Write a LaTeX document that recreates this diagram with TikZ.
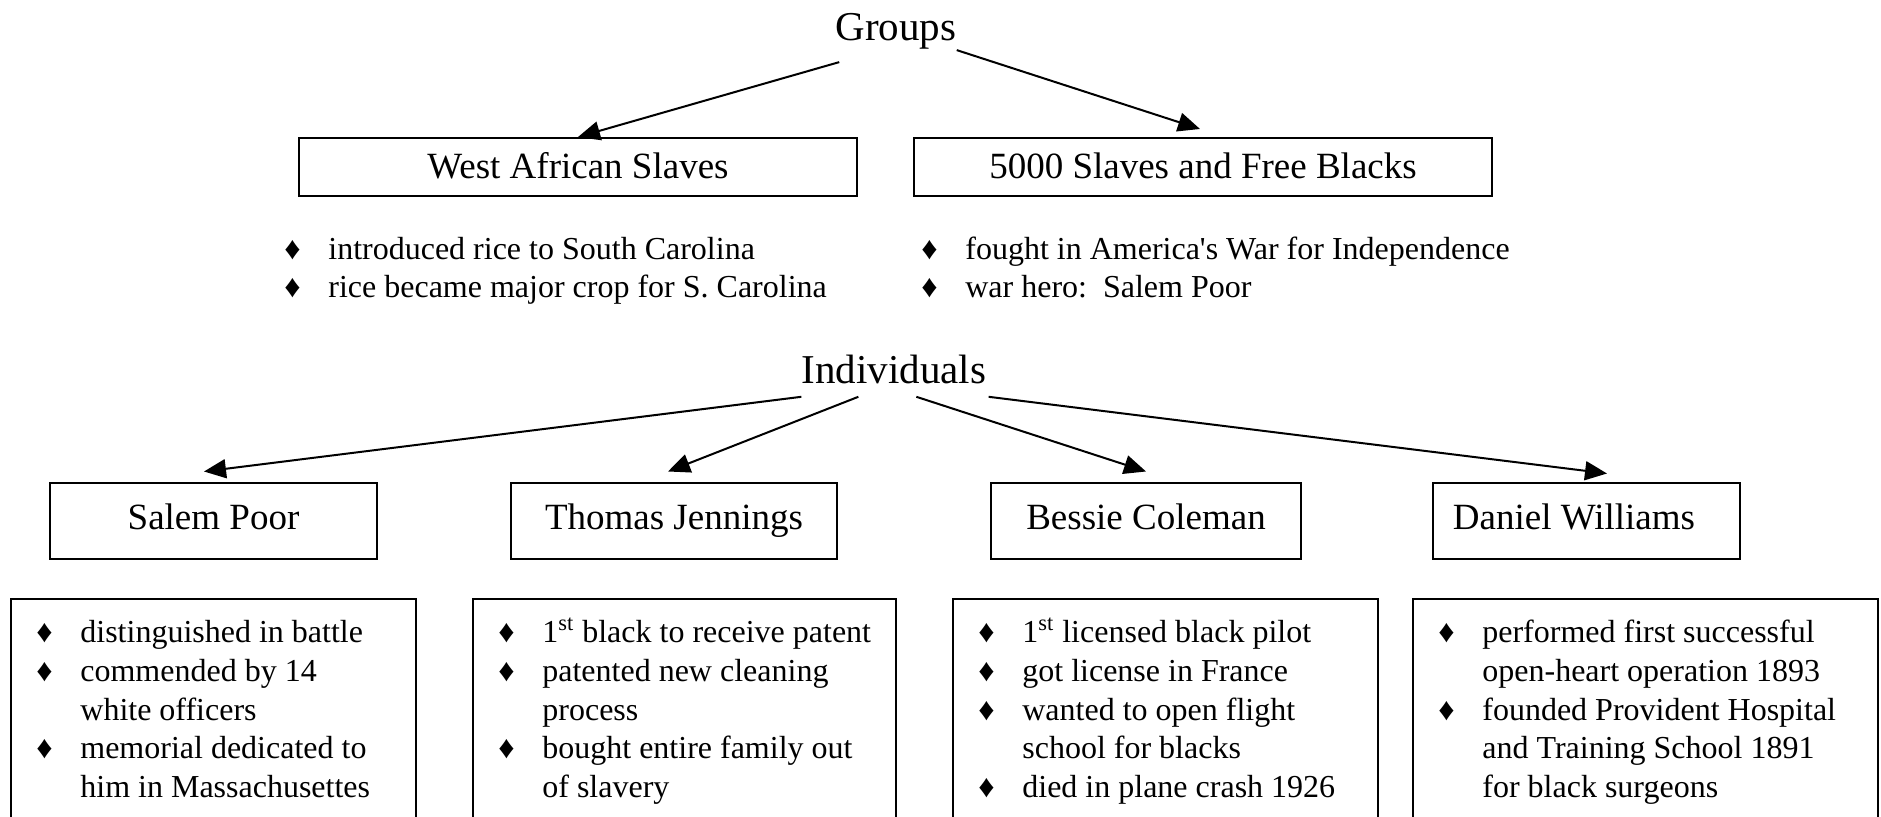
\documentclass[tikz,border=0pt]{standalone}
\usepackage{fontspec}
\setmainfont{Liberation Serif}
\usepackage{tikz}
\usetikzlibrary{arrows.meta,positioning,calc}
\newcommand{\dia}{\makebox[22pt][l]{♦}}
\newcommand{\cnt}{\hspace*{22pt}}
\tikzset{
  headlabel/.style={inner sep=0pt,anchor=base,font=\fontsize{20.5pt}{24pt}\selectfont},
  namebox/.style={draw,line width=1pt,inner sep=0pt,minimum height=38pt,text height=12pt,text depth=3.5pt,font=\fontsize{18.5pt}{22pt}\selectfont},
  facts/.style={inner sep=0pt,anchor=north west,align=left,font=\fontsize{16pt}{19pt}\selectfont},
  bottomfacts/.style={facts,font=\fontsize{16pt}{19.4pt}\selectfont},
  frame/.style={anchor=north west,inner sep=0pt,minimum height=120pt},
  arr/.style={line width=1pt,-{Triangle[length=11pt,width=9.5pt]}}
}

\begin{document}
\begin{tikzpicture}[x=0.5pt,y=-0.5pt]
        \useasboundingbox (0,0) rectangle (1881,817);
        % groups
        \node[headlabel] (groups) at (896,41) {Groups};
        \node[namebox,minimum width=279pt,minimum height=29pt,text depth=0pt] (westafr) at (578,167) {West African Slaves};
        \node[namebox,minimum width=289pt,minimum height=29pt,text depth=0pt] (freeblk) at (1203,167) {5000 Slaves and Free Blacks};
        \draw[arr] ([shift={(2pt,-6pt)}]groups.south west) -- (westafr.north);
        \draw[arr] (groups.south east) -- ([shift={(-1.5pt,4pt)}]freeblk.north);
        \node[facts] (westfacts) at (284,233) {\strut\dia introduced rice to South Carolina\\ \dia rice became major crop for S. Carolina};
        \node[facts] (freefacts) at (921,233) {\strut\dia fought in America\textquotesingle s War for Independence\\ \dia war hero:\ \ Salem Poor};
        % individuals
        \node[headlabel] (indiv) at (894,384) {Individuals};
        \node[namebox,minimum width=163.5pt] (salem) at (213.5,521.5) {Salem Poor};
        \node[namebox,minimum width=163pt] (thomas) at (674,521.5) {Thomas Jennings};
        \node[namebox,minimum width=155pt] (bessie) at (1146,521.5) {Bessie Coleman};
        \node[namebox,minimum width=153.5pt] (daniel) at (1586,521.5) {Daniel Williams\hspace*{12pt}};
        \draw[arr] ([yshift=-6pt]indiv.south west) -- ([shift={(-4.75pt,5.5pt)}]salem.north);
        \draw[arr] ([shift={(28.5pt,-6pt)}]indiv.south west) -- ([shift={(-3pt,5.5pt)}]thomas.north);
        \draw[arr] ([shift={(57.5pt,-6pt)}]indiv.south west) -- ([yshift=5.5pt]bessie.north);
        \draw[arr] ([shift={(1pt,-6pt)}]indiv.south east) -- ([shift={(10.5pt,4.5pt)}]daniel.north);
        % fact boxes, open at the bottom
        \node[frame,minimum width=202pt] (salemframe) at (11,599) {};
        \node[frame,minimum width=211pt] (thomasframe) at (473,599) {};
        \node[frame,minimum width=212pt] (bessieframe) at (953,599) {};
        \node[frame,minimum width=232pt] (danielframe) at (1413,599) {};
        \foreach \n in {salemframe,thomasframe,bessieframe,danielframe}
          \draw[line width=1pt] (\n.south west) |- (\n.north east) -- (\n.south east);
        \node[bottomfacts] (salemfacts) at ([shift={(12.5pt,-8pt)}]salemframe.north west) {\strut\dia distinguished in battle\\ \dia commended by 14\\ \cnt white officers\\ \dia memorial dedicated to\\ \cnt him in Massachusettes};
        \node[bottomfacts] (thomasfacts) at ([shift={(12.5pt,-8pt)}]thomasframe.north west) {\strut\dia 1\textsuperscript{st} black to receive patent\\ \dia patented new cleaning\\ \cnt process\\ \dia bought entire family out\\ \cnt of slavery};
        \node[bottomfacts] (bessiefacts) at ([shift={(12.5pt,-8pt)}]bessieframe.north west) {\strut\dia 1\textsuperscript{st} licensed black pilot\\ \dia got license in France\\ \dia wanted to open flight\\ \cnt school for blacks\\ \dia died in plane crash 1926};
        \node[bottomfacts] (danielfacts) at ([shift={(12.5pt,-8pt)}]danielframe.north west) {\strut\dia performed first successful\\ \cnt open-heart operation 1893\\ \dia founded Provident Hospital\\ \cnt and Training School 1891\\ \cnt for black surgeons};
      \end{tikzpicture}
\end{document}
